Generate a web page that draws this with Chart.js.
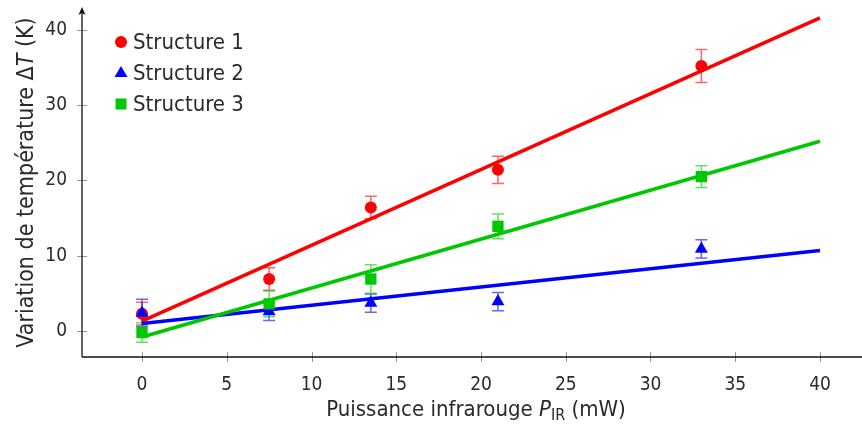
<!DOCTYPE html>
<html>
<head>
<meta charset="utf-8">
<script src="https://cdn.jsdelivr.net/npm/chart.js@4"></script>
<style>
  html, body { margin: 0; padding: 0; background: #fff; }
  #wrap { width: 862px; height: 424px; position: relative; }
</style>
</head>
<body>
<div id="wrap"><canvas id="chart"></canvas></div>
<script>
// measured points
var puissance = [0, 7.5, 13.5, 21, 33];
var structure1 = [2.3, 6.9, 16.4, 21.4, 35.2];
var erreur1 = [1.5, 1.5, 1.5, 1.8, 2.2];
var structure2 = [2.4, 2.6, 3.7, 3.9, 10.9];
var erreur2 = [1.8, 1.2, 1.2, 1.2, 1.2];
var structure3 = [-0.2, 3.6, 6.9, 13.9, 20.5];
var erreur3 = [1.3, 1.7, 1.9, 1.65, 1.45];

// linear fits
var fitX = [0, 40];
var fit1 = [1.3, 41.6];
var fit2 = [1.0, 10.7];
var fit3 = [-0.8, 25.2];

var xTicks = [0, 5, 10, 15, 20, 25, 30, 35, 40];
var yTicks = [0, 10, 20, 30, 40];
var labels = ['Structure 1', 'Structure 2', 'Structure 3'];

var FONT = '"DejaVu Sans Condensed", "DejaVu Sans", sans-serif';
var TXT = '#2a2a2a';
var colors = ['#ff0000', '#0000ff', '#00c800'];
var errColors = ['rgba(255,0,0,0.6)', 'rgba(0,0,255,0.6)', 'rgba(0,200,0,0.6)'];
var styles = ['circle', 'triangle', 'rect'];
var radii = [6, 7.5, 8];

var toPts = function(xs, ys){
  return xs.map(function(x, i){ return {x: x, y: ys[i]}; });
};

var series = [structure1, structure2, structure3];
var errors = [erreur1, erreur2, erreur3];
var fits = [fit1, fit2, fit3];

var datasets = [];
var order = 6;
series.forEach(function(s, k){
  datasets.push({
    label: labels[k],
    data: toPts(puissance, s),
    errs: errors[k],
    showLine: false,
    pointStyle: styles[k],
    pointRadius: radii[k],
    pointHoverRadius: radii[k],
    backgroundColor: colors[k],
    borderColor: colors[k],
    borderWidth: 0,
    order: order--
  });
  datasets.push({
    label: labels[k] + ' fit',
    data: toPts(fitX, fits[k]),
    showLine: true,
    pointRadius: 0,
    borderColor: colors[k],
    borderWidth: 3.5,
    fill: false,
    order: order--
  });
});

var errorBars = {
  id: 'errorBars',
  beforeDatasetsDraw: function(chart){
    var ctx = chart.ctx, xs = chart.scales.x, ys = chart.scales.y;
    ctx.save();
    ctx.lineWidth = 1.5;
    chart.data.datasets.forEach(function(ds, k){
      if (!ds.errs) return;
      ctx.strokeStyle = errColors[k / 2];
      ds.data.forEach(function(p, i){
        var px = xs.getPixelForValue(p.x);
        var top = ys.getPixelForValue(p.y + ds.errs[i]);
        var bot = ys.getPixelForValue(p.y - ds.errs[i]);
        ctx.beginPath();
        ctx.moveTo(px, top); ctx.lineTo(px, bot);
        ctx.moveTo(px - 6, top); ctx.lineTo(px + 6, top);
        ctx.moveTo(px - 6, bot); ctx.lineTo(px + 6, bot);
        ctx.stroke();
      });
    });
    ctx.restore();
  }
};

var axesDeco = {
  id: 'axesDeco',
  beforeDatasetsDraw: function(chart){
    var ctx = chart.ctx, xs = chart.scales.x, ys = chart.scales.y, a = chart.chartArea;
    ctx.save();
    // tick marks
    ctx.strokeStyle = '#999';
    ctx.lineWidth = 1;
    ctx.beginPath();
    xTicks.forEach(function(v){
      var px = Math.round(xs.getPixelForValue(v)) + 0.5;
      ctx.moveTo(px, a.bottom - 5); ctx.lineTo(px, a.bottom + 5);
    });
    yTicks.forEach(function(v){
      var py = Math.round(ys.getPixelForValue(v)) + 0.5;
      ctx.moveTo(a.left - 5, py); ctx.lineTo(a.left + 5, py);
    });
    ctx.stroke();
    // axis lines
    ctx.strokeStyle = '#111';
    ctx.lineWidth = 1.3;
    ctx.beginPath();
    ctx.moveTo(a.left, a.bottom); ctx.lineTo(chart.width, a.bottom);
    ctx.moveTo(a.left, a.bottom); ctx.lineTo(a.left, a.top + 2);
    ctx.stroke();
    ctx.fillStyle = '#111';
    ctx.beginPath();
    ctx.moveTo(a.left, a.top - 1);
    ctx.lineTo(a.left - 3.5, a.top + 7);
    ctx.lineTo(a.left, a.top + 5);
    ctx.lineTo(a.left + 3.5, a.top + 7);
    ctx.closePath();
    ctx.fill();
    ctx.restore();
  },
  afterDraw: function(chart){
    var ctx = chart.ctx, a = chart.chartArea;
    ctx.save();
    ctx.fillStyle = TXT;
    ctx.textBaseline = 'alphabetic';
    // y title
    var parts = [
      {t: 'Variation de température Δ', f: '23px ' + FONT},
      {t: 'T', f: 'italic 23px ' + FONT},
      {t: ' (K)', f: '23px ' + FONT}
    ];
    var w = 0;
    parts.forEach(function(p){ ctx.font = p.f; p.w = ctx.measureText(p.t).width; w += p.w; });
    ctx.translate(33, (a.top + a.bottom) / 2);
    ctx.rotate(-Math.PI / 2);
    var x = -w / 2;
    parts.forEach(function(p){ ctx.font = p.f; ctx.fillText(p.t, x, 0); x += p.w; });
    ctx.setTransform(1, 0, 0, 1, 0, 0);
    // x title
    var xp = [
      {t: 'Puissance infrarouge ', f: '22px ' + FONT, dy: 0},
      {t: 'P', f: 'italic 22px ' + FONT, dy: 0},
      {t: 'IR', f: '16px ' + FONT, dy: 4},
      {t: ' (mW)', f: '22px ' + FONT, dy: 0}
    ];
    w = 0;
    xp.forEach(function(p){ ctx.font = p.f; p.w = ctx.measureText(p.t).width; w += p.w; });
    x = 476 - w / 2;
    xp.forEach(function(p){ ctx.font = p.f; ctx.fillText(p.t, x, 416 + p.dy); x += p.w; });
    // legend
    ctx.font = '22px ' + FONT;
    var rows = [42, 73, 104];
    labels.forEach(function(l, k){
      var mx = 121, my = rows[k];
      ctx.fillStyle = colors[k];
      ctx.beginPath();
      if (k === 0) { ctx.arc(mx, my, 6, 0, Math.PI * 2); }
      else if (k === 1) { ctx.moveTo(mx, my - 7); ctx.lineTo(mx + 6.5, my + 4); ctx.lineTo(mx - 6.5, my + 4); ctx.closePath(); }
      else { ctx.rect(mx - 5.5, my - 5.5, 11, 11); }
      ctx.fill();
      ctx.fillStyle = TXT;
      ctx.textBaseline = 'middle';
      ctx.fillText(l, 133, my + 1);
    });
    ctx.restore();
  }
};

var ctx = document.getElementById('chart');
var myChart = new Chart(ctx, {
  type: 'scatter',
  data: { datasets: datasets },
  options: {
    animation: false,
    responsive: true,
    maintainAspectRatio: false,
    layout: { autoPadding: false, padding: { left: 0, top: 8, right: 2, bottom: 0 } },
    plugins: { legend: { display: false }, tooltip: { enabled: false } },
    scales: {
      x: {
        type: 'linear',
        min: -3.54,
        max: 42.36,
        grid: { display: false },
        border: { display: false },
        afterBuildTicks: function(scale){ scale.ticks = xTicks.map(function(v){ return {value: v}; }); },
        afterFit: function(scale){
          scale.height = 67;
          scale.paddingLeft = 0; scale.paddingRight = 0;
        },
        ticks: { color: TXT, padding: 9, font: { family: FONT, size: 19 } }
      },
      y: {
        type: 'linear',
        min: -3.46,
        max: 42.9,
        grid: { display: false },
        border: { display: false },
        afterBuildTicks: function(scale){ scale.ticks = yTicks.map(function(v){ return {value: v}; }); },
        afterFit: function(scale){
          scale.width = 82;
          scale.paddingTop = 0; scale.paddingBottom = 0;
        },
        ticks: { color: TXT, padding: 7, font: { family: FONT, size: 19 } }
      }
    }
  },
  plugins: [errorBars, axesDeco]
});
</script>
</body>
</html>
